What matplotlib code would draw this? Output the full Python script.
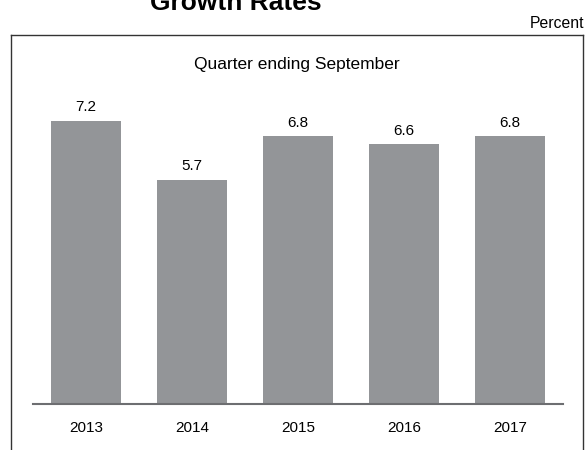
import matplotlib
matplotlib.use("Agg")
import matplotlib.pyplot as plt
from matplotlib.lines import Line2D

plt.rcParams['font.family'] = ['Liberation Sans', 'DejaVu Sans']

years = ["2013", "2014", "2015", "2016", "2017"]
growth = [7.2, 5.7, 6.8, 6.6, 6.8]
labels = ["7.2", "5.7", "6.8", "6.6", "6.8"]

W, H = 586, 450
fig = plt.figure(figsize=(W / 100, H / 100), dpi=100)

# axes: baseline at y=404 px, top at y=35 px, x from 33 to 563 px
ax_left, ax_right = 33 / W, 563 / W
ax_bottom = (H - 404) / H
ax_top = (H - 35) / H
ax = fig.add_axes([ax_left, ax_bottom, ax_right - ax_left, ax_top - ax_bottom])

x = list(range(len(years)))
bars = ax.bar(x, growth, width=0.66, color="#939598", zorder=2)
ax.set_xlim(-0.5, len(years) - 0.5)
ax.set_ylim(0, 369 / 39.35)

for xi, v, lab in zip(x, growth, labels):
    ax.annotate(lab, (xi, v), xytext=(0, 7), textcoords="offset points",
                ha="center", va="baseline", fontsize=11, color="#000000")

ax.set_xticks(x)
ax.set_xticklabels(years, fontsize=11)
ax.tick_params(axis="x", length=0, pad=12.5)
ax.set_yticks([])
for s in ["top", "left", "right"]:
    ax.spines[s].set_visible(False)
ax.spines["bottom"].set_color("#6d6e71")
ax.spines["bottom"].set_linewidth(1.5)
ax.patch.set_alpha(0)

fig.text(297 / W, 1 - 68.5 / H, "Quarter ending September",
         ha="center", va="baseline", fontsize=12.5)

# frame (left, top, right sides; bottom cut off)
fx0, fx1 = 11 / W, 583 / W
fy_top = (H - 35) / H
frame_kw = dict(color="#333333", linewidth=1.0, transform=fig.transFigure)
fig.add_artist(Line2D([fx0, fx0], [0, fy_top], **frame_kw))
fig.add_artist(Line2D([fx0, fx1], [fy_top, fy_top], **frame_kw))
fig.add_artist(Line2D([fx1, fx1], [0, fy_top], **frame_kw))

fig.text(236 / W, 1 - 10 / H, "Growth Rates", ha="center", va="baseline",
         fontsize=19, fontweight="bold")
fig.text(584 / W, 1 - 28 / H, "Percent", ha="right", va="baseline", fontsize=11.3)

fig.savefig("out.png", dpi=100)
